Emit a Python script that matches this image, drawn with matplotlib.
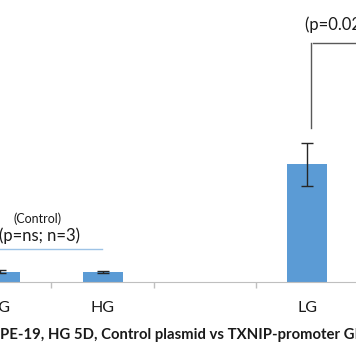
import numpy as np
import matplotlib
matplotlib.use("Agg")
import matplotlib.pyplot as plt

categories = ["LG", "HG", "", "LG"]
values = [0.95, 0.89, np.nan, 10.7]
errors = [0.1, 0.08, 0.0, 1.95]
title = "ARPE-19, HG 5D, Control plasmid vs TXNIP-promoter GFP"

W, H = 356, 364
fig = plt.figure(figsize=(W / 100, H / 100), dpi=100)

# axes deliberately run past the figure edges (the reference is a crop)
x0, x1 = -51, 358.6
base, top = 282, 0
ax = fig.add_axes([x0 / W, (H - base) / H, (x1 - x0) / W, (base - top) / H])
ax.set_xlim(-0.5, len(categories) - 0.5)
ax.set_ylim(0, 25.64)

x = np.arange(len(categories))
ax.bar(x, values, width=0.39, color="#5b9bd5", zorder=2)
ax.errorbar(x, values, yerr=errors, fmt="none", ecolor="#262626",
            elinewidth=1, capsize=4.5, capthick=1, zorder=3)

for s in ["top", "right", "left"]:
    ax.spines[s].set_visible(False)
ax.spines["bottom"].set_color("#bfbfbf")
ax.set_yticks([])
ax.set_xticks(x)
ax.set_xticklabels(categories, fontsize=11.5, family="Lato", color="#1a1a1a")
ax.set_xticks(np.arange(len(categories) + 1) - 0.5, minor=True)
ax.tick_params(axis="x", which="major", length=0, pad=14)
ax.tick_params(axis="x", which="minor", length=4.5, color="#bfbfbf", width=1)

# significance marks
ax.plot([3.032, 3.032], [14.0, 21.73], color="#595959", lw=1, clip_on=False)
ax.plot([3.055, 4.5], [21.73, 21.73], color="#595959", lw=1, clip_on=False)
ax.text(2.98, 23.4, "(p=0.02; n=3)", fontsize=12, family="Lato",
        ha="left", va="center", color="#1a1a1a", clip_on=False)

ax.plot([-0.6, 0.993], [2.97, 2.97], color="#9dc3e6", lw=1, clip_on=False)
ax.text(0.779, 4.23, "(p=ns; n=3)", fontsize=12, family="Lato",
        ha="right", va="center", color="#1a1a1a", clip_on=False)
ax.text(0.367, 5.73, "(Control)", fontsize=9, family="Lato",
        ha="center", va="center", color="#1a1a1a", clip_on=False)

# title: only "PE-19 ..." is in view, so push the "AR" past the left edge
tkw = dict(fontsize=10.7, family="Lato", fontweight="bold", color="#1a1a1a")
r = fig.canvas.get_renderer()
probe = fig.text(0, 0, "AR", **tkw)
shift = probe.get_window_extent(r).width
probe.remove()
fig.text(-shift / W, (H - 335) / H, title, ha="left", va="center", **tkw)

fig.savefig("out.png", dpi=100)
